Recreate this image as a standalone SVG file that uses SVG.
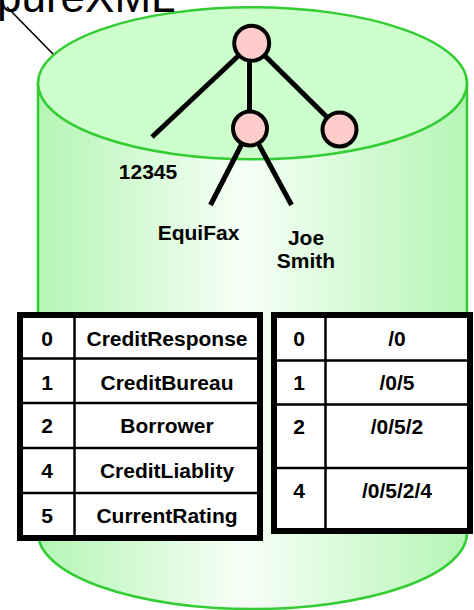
<svg xmlns="http://www.w3.org/2000/svg" width="474" height="610" viewBox="0 0 474 610">
<defs>
<linearGradient id="body" x1="38" y1="0" x2="467" y2="0" gradientUnits="userSpaceOnUse">
<stop offset="0" stop-color="#b5f5b5"/>
<stop offset="0.48" stop-color="#f7fff7"/>
<stop offset="1" stop-color="#b5f5b5"/>
</linearGradient>
<style>
.cyl{stroke:#33cc33;stroke-width:2.5}
.edge{stroke:#000;stroke-width:5;fill:none;stroke-linecap:butt}
.node{fill:#ffcccc;stroke:#000;stroke-width:4}
.lbl{font-family:"Liberation Sans",Arial,sans-serif;font-weight:bold;font-size:21px;fill:#000;text-anchor:middle}
.tbl{fill:#fff;stroke:#000;stroke-width:6}
.grid{stroke:#000;stroke-width:2.5;fill:none}
</style>
</defs>
<g id="cylinder">
<path class="cyl" fill="url(#body)" d="M38,83 L38,533 A214.5,76 0 0 0 467,533 L467,83 Z"/>
<ellipse class="cyl" fill="#ccffcc" cx="252.5" cy="83.3" rx="214.5" ry="76"/>
</g>
<g id="title">
<text x="-3" y="12" font-family="Liberation Sans,Arial,sans-serif" font-size="44" fill="#000">pureXML</text>
<line x1="7" y1="7" x2="53" y2="54" stroke="#000" stroke-width="1.6"/>
</g>
<g id="connectors">
<line class="edge" x1="252" y1="43" x2="152" y2="137"/>
<line class="edge" x1="249.5" y1="43" x2="249.5" y2="128"/>
<line class="edge" x1="252" y1="43" x2="339.5" y2="129.5"/>
<line class="edge" x1="250" y1="128" x2="210.5" y2="205"/>
<line class="edge" x1="250" y1="128" x2="291.5" y2="205"/>
</g>
<g id="node-root"><circle class="node" cx="251.7" cy="43.3" r="17.5"/></g>
<g id="node-child"><circle class="node" cx="250" cy="128.5" r="17"/></g>
<g id="node-right"><circle class="node" cx="339.5" cy="129.5" r="17"/></g>
<g id="labels">
<text class="lbl" x="148" y="179">12345</text>
<text class="lbl" x="198.5" y="240">EquiFax</text>
<text class="lbl" x="306" y="245">Joe</text>
<text class="lbl" x="306" y="268">Smith</text>
</g>
<g id="table-names">
<rect class="tbl" x="20" y="315" width="240" height="223"/>
<path class="grid" d="M74.5,315V538 M20,358.5H260 M20,403H260 M20,448H260 M20,493H260"/>
<text class="lbl" x="47" y="346">0</text>
<text class="lbl" x="167" y="346">CreditResponse</text>
<text class="lbl" x="47" y="390">1</text>
<text class="lbl" x="167" y="390">CreditBureau</text>
<text class="lbl" x="47" y="433">2</text>
<text class="lbl" x="167" y="433">Borrower</text>
<text class="lbl" x="47" y="478">4</text>
<text class="lbl" x="167" y="478">CreditLiablity</text>
<text class="lbl" x="47" y="523">5</text>
<text class="lbl" x="167" y="523">CurrentRating</text>
</g>
<g id="table-paths">
<rect class="tbl" x="274" y="315" width="196" height="216"/>
<path class="grid" d="M325.5,315V531 M274,360.5H470 M274,404.5H470 M274,468H470"/>
<text class="lbl" x="299" y="346">0</text>
<text class="lbl" x="397" y="346">/0</text>
<text class="lbl" x="299" y="390">1</text>
<text class="lbl" x="397" y="390">/0/5</text>
<text class="lbl" x="299" y="434">2</text>
<text class="lbl" x="397" y="434">/0/5/2</text>
<text class="lbl" x="299" y="498">4</text>
<text class="lbl" x="397" y="498">/0/5/2/4</text>
</g>
</svg>
